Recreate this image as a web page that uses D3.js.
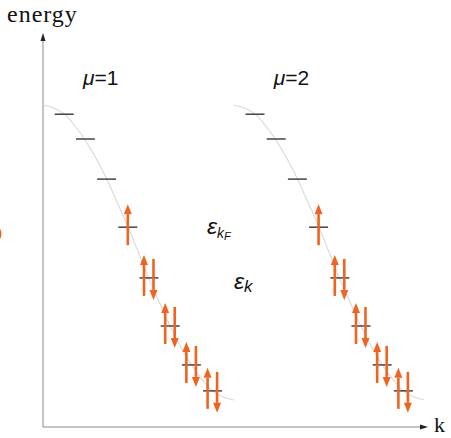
<!DOCTYPE html>
<html>
<head>
<meta charset="utf-8">
<script src="https://cdn.jsdelivr.net/npm/d3@7"></script>
<style>
  body { margin: 0; background: white; }
  svg { display: block; }
</style>
</head>
<body>
<div id="chart"></div>
<script>
// band shape (one band, k from 0 to 9)
var bandK = [0, 0.5, 1, 1.5, 2, 2.5, 3, 3.5, 4, 4.5, 5, 5.5, 6, 6.5, 7, 7.5, 8, 8.5, 9];
var bandE = [1, 0.99, 0.97, 0.93, 0.88, 0.82, 0.75, 0.67, 0.59, 0.50, 0.41, 0.33, 0.25, 0.18, 0.12, 0.07, 0.03, 0.01, 0];

// two bands, shifted along k
var bandOffsets = [0, 9];
var muNames = ["1", "2"];

// discrete levels on each band
var levelK = [1, 2, 3, 4, 5, 6, 7, 8];
var levelE = [0.969, 0.885, 0.749, 0.586, 0.414, 0.251, 0.119, 0.031];
// electrons on each level: 0 empty, 1 spin up, 2 up + down
var occupancy = [0, 0, 0, 1, 2, 2, 2, 2];

var width = 451, height = 438;
var orange = "#ee6420";

var svg = d3.select("#chart").append("svg")
  .attr("width", width)
  .attr("height", height);

var x = d3.scaleLinear().domain([0, 18.35]).range([43, 432]);
var y = d3.scaleLinear().domain([-0.0915, 1.241]).range([427, 34]);

// axes
svg.append("line")
  .attr("x1", x(0)).attr("y1", y(-0.0915))
  .attr("x2", x(0)).attr("y2", y(1.241) + 6)
  .attr("stroke", "#888").attr("stroke-width", 1);
svg.append("path")
  .attr("d", "M" + x(0) + "," + (y(1.241) - 1) + " l-2.5,8 l5,0 z")
  .attr("fill", "#222");
svg.append("line")
  .attr("x1", x(0)).attr("y1", y(-0.0915))
  .attr("x2", x(18.35) - 8).attr("y2", y(-0.0915))
  .attr("stroke", "#888").attr("stroke-width", 1);
svg.append("path")
  .attr("d", "M" + (x(18.35) - 4) + "," + y(-0.0915) + " l-8,-2.5 l0,5 z")
  .attr("fill", "#222");

svg.append("text")
  .attr("x", 7).attr("y", 22)
  .attr("font-family", "Liberation Serif, serif")
  .attr("font-size", 24)
  .attr("letter-spacing", 1)
  .attr("fill", "#111")
  .text("energy");
svg.append("text")
  .attr("x", 434).attr("y", 432)
  .attr("font-family", "Liberation Serif, serif")
  .attr("font-size", 22)
  .attr("fill", "#111")
  .text("k");

var line = d3.line()
  .x(function(d) { return x(d[0]); })
  .y(function(d) { return y(d[1]); })
  .curve(d3.curveMonotoneX);

function arrow(g, cx, yFrom, yTo) {
  var dir = yTo < yFrom ? 1 : -1;   // 1 = pointing up
  var head = 10;
  g.append("line")
    .attr("x1", cx).attr("y1", yFrom)
    .attr("x2", cx).attr("y2", yTo + dir * head)
    .attr("stroke", orange).attr("stroke-width", 2.6);
  g.append("path")
    .attr("d", "M" + cx + "," + yTo + " L" + (cx - 4) + "," + (yTo + dir * head) +
      " L" + (cx + 4) + "," + (yTo + dir * head) + " Z")
    .attr("fill", orange);
}

bandOffsets.forEach(function(off, b) {
  var g = svg.append("g");

  g.append("path")
    .datum(bandK.map(function(k, i) { return [k + off, bandE[i]]; }))
    .attr("d", line)
    .attr("fill", "none")
    .attr("stroke", "#d8d8d8")
    .attr("stroke-width", 1.1);

  g.selectAll(".level")
    .data(levelK)
    .enter().append("line")
    .attr("class", "level")
    .attr("x1", function(k) { return x(k + off) - 9.5; })
    .attr("x2", function(k) { return x(k + off) + 9.5; })
    .attr("y1", function(k, i) { return y(levelE[i]); })
    .attr("y2", function(k, i) { return y(levelE[i]); })
    .attr("stroke", "#444")
    .attr("stroke-width", 1.5);

  levelK.forEach(function(k, i) {
    var cx = x(k + off), ly = y(levelE[i]);
    if (occupancy[i] === 1) {
      arrow(g, cx, ly + 18, ly - 23);
    } else if (occupancy[i] === 2) {
      arrow(g, cx - 5, ly + 18, ly - 23);
      arrow(g, cx + 4.5, ly - 19, ly + 22);
    }
  });

  var mu = g.append("text")
    .attr("x", x(off) + 40).attr("y", 85)
    .attr("font-family", "Liberation Sans, Arial, sans-serif")
    .attr("font-size", 21)
    .attr("fill", "#111");
  mu.append("tspan").attr("font-style", "italic").text("\u03bc");
  mu.append("tspan").text("=" + muNames[b]);
});

// energy labels
var t1 = svg.append("text")
  .attr("x", 207).attr("y", 234)
  .attr("font-family", "Liberation Sans, Arial, sans-serif")
  .attr("font-style", "italic")
  .attr("fill", "#111");
t1.append("tspan").attr("font-size", 23).text("\u03b5");
t1.append("tspan").attr("font-size", 14).attr("dy", 4).text("k");
t1.append("tspan").attr("font-size", 11).attr("dy", 2).text("F");

var t2 = svg.append("text")
  .attr("x", 234).attr("y", 289)
  .attr("font-family", "Liberation Sans, Arial, sans-serif")
  .attr("font-style", "italic")
  .attr("fill", "#111");
t2.append("tspan").attr("font-size", 23).text("\u03b5");
t2.append("tspan").attr("font-size", 17).attr("dy", 3).text("k");

// clipped orange mark at the left edge
svg.append("ellipse")
  .attr("cx", -2).attr("cy", 234)
  .attr("rx", 3.5).attr("ry", 6)
  .attr("fill", orange);
</script>
</body>
</html>
